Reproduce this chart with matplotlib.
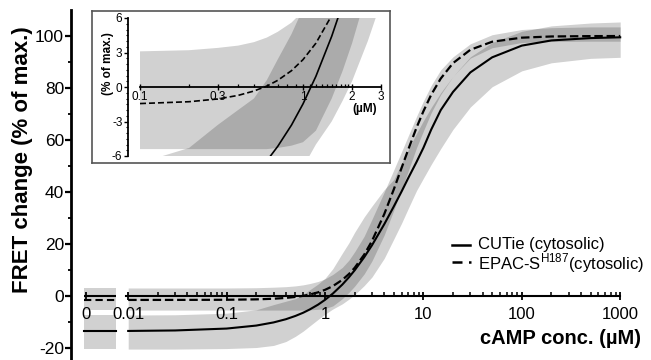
import numpy as np
import matplotlib
matplotlib.use("Agg")
import matplotlib.pyplot as plt
from matplotlib.lines import Line2D
from matplotlib.ticker import NullFormatter, FixedLocator

plt.rcParams['font.family'] = ['Liberation Sans', 'DejaVu Sans']
plt.rcParams['mathtext.fontset'] = 'custom'
plt.rcParams['mathtext.rm'] = 'Liberation Sans'

# ---------------- data ----------------
conc = [0.01, 0.03, 0.1, 0.2, 0.3, 0.4, 0.5, 0.6, 0.7, 0.85, 1, 1.2, 1.5, 1.75, 2,
        2.5, 3, 4, 5, 6, 7, 8.5, 10, 12, 15, 20, 30, 50, 100, 200, 500, 1000]

cutie = [-13.43, -13.24, -12.51, -11.36, -10.15, -8.92, -7.66, -6.42, -5.16, -3.31,
         -1.47, 0.93, 4.41, 7.21, 9.88, 14.91, 19.51, 27.61, 34.43, 40.19, 45.3,
         51.5, 57.0, 64.0, 71.5, 78.5, 86.0, 91.8, 96.3, 98.3, 99.2, 99.5]
cutie_hi = [-7.3, -7.2, -6.6, -5.3, -3.3, -2.0, -1.0, 0.6, 2.4, 4.6, 6.8, 10.5, 16.5,
            20.5, 24.5, 30.4, 34.6, 40.9, 44.8, 51.0, 56.2, 62.5, 67.4, 72.5, 78.2,
            84.5, 92.0, 97.5, 101.8, 103.9, 105.0, 105.4]
cutie_lo = [-20.4, -20.4, -20.2, -19.8, -19.0, -17.5, -15.5, -13.5, -11.5, -9.0,
            -7.0, -5.0, -3.0, -1.2, 0.5, 4.0, 7.3, 14.5, 21.9, 28.0, 33.6, 40.5,
            45.3, 50.6, 56.7, 64.1, 72.7, 80.5, 86.6, 89.7, 91.4, 91.8]

epac = [-1.50, -1.49, -1.44, -1.28, -1.04, -0.73, -0.35, 0.08, 0.58, 1.42, 2.38,
        3.81, 6.22, 8.46, 10.83, 15.9, 21.15, 31.5, 41.0, 49.25, 56.25, 64.7,
        71.06, 77.4, 83.64, 89.58, 94.7, 97.8, 99.36, 99.82, 99.96, 99.99]
epac_hi = [3.1, 3.1, 3.1, 3.2, 3.4, 3.6, 3.9, 4.3, 4.8, 5.6, 6.6, 8.3, 11.0, 13.8,
           17.0, 23.0, 29.5, 40.0, 48.5, 55.5, 61.5, 69.0, 75.0, 81.0, 87.0, 92.0,
           97.0, 100.5, 102.5, 103.2, 103.5, 103.5]
epac_lo = [-5.4, -5.4, -5.4, -5.4, -5.4, -5.4, -5.4, -5.4, -5.3, -5.1, -4.8, -3.8,
           -1.0, 1.4, 3.8, 8.5, 13.5, 23.5, 33.0, 41.0, 48.0, 57.0, 63.5, 70.5,
           77.5, 84.5, 91.5, 95.5, 97.5, 97.9, 98.0, 98.0]

# values at zero cAMP (left axis segment)
zero_cutie, zero_cutie_lo, zero_cutie_hi = -13.5, -20.4, -7.3
zero_epac, zero_epac_lo, zero_epac_hi = -1.5, -5.4, 3.1

xtick_vals = [0.01, 0.1, 1, 10, 100, 1000]
xtick_labels = ['0.01', '0.1', '1', '10', '100', '1000']
ytick_vals = [-20, 0, 20, 40, 60, 80, 100]
inset_xticks = [0.1, 0.3, 1, 2, 3]
inset_xlabels = ['0.1', '0.3', '1', '2', '3']
inset_yticks = [-6, -3, 0, 3, 6]
inset_ylabels = ['-6', '-3', '0', '3', '6']

# ---------------- figure ----------------
W, H = 651, 360
fig = plt.figure(figsize=(W / 100, H / 100), dpi=100)

def fx(p):
    return p / W

def fy(p):
    return 1 - p / H

PX0, PXDEC = 325.0, 98.4          # pixel of 1 uM, pixels per decade
ax = fig.add_axes([fx(71), 0, fx(651 - 71), 350 / H])
ax.set_xlim((71 - PX0) / PXDEC, (651 - PX0) / PXDEC)
ax.set_ylim(-24.6, 110)

u = np.log10(conc)
BAND = dict(color='k', alpha=0.18, lw=0)
ax.fill_between(u, cutie_lo, cutie_hi, **BAND, zorder=1)
ax.fill_between(u, epac_lo, epac_hi, **BAND, zorder=1)

# zero-concentration segment
U0 = (86 - PX0) / PXDEC
seg = [(84 - PX0) / PXDEC, (116 - PX0) / PXDEC]
ax.fill_between(seg, [zero_cutie_lo] * 2, [zero_cutie_hi] * 2, **BAND, zorder=1)
ax.fill_between(seg, [zero_epac_lo] * 2, [zero_epac_hi] * 2, **BAND, zorder=1)
ax.plot(seg, [0, 0], color='k', lw=1.5, zorder=3, solid_capstyle='butt')
ax.plot(seg, [zero_cutie] * 2, color='k', lw=1.5, zorder=4)
ax.plot(seg, [zero_epac] * 2, color='k', lw=1.5, dashes=(3.5, 2), zorder=4)

ax.plot(u, cutie, color='k', lw=1.5, zorder=4)
ax.plot(u, epac, color='k', lw=1.6, dashes=(3.8, 1.7), zorder=4)

for s in ['top', 'right']:
    ax.spines[s].set_visible(False)
ax.spines['left'].set_linewidth(2.0)
ax.spines['bottom'].set_position(('data', 0))
ax.spines['bottom'].set_bounds((126 - PX0) / PXDEC, 3.0)
ax.spines['bottom'].set_linewidth(1.5)
ax.spines['bottom'].set_zorder(3)

ax.set_xticks([U0] + list(np.log10(xtick_vals)))
ax.set_xticklabels(['0'] + xtick_labels, fontsize=12)
minor_u = [np.log10(k * 10.0 ** d) for d in range(-2, 3) for k in range(2, 10)]
ax.xaxis.set_minor_locator(FixedLocator(minor_u))
ax.tick_params(axis='x', which='major', direction='inout', length=6, width=1.3, pad=5)
ax.tick_params(axis='x', which='minor', direction='in', length=3, width=1.1)

ax.set_yticks(ytick_vals)
ax.set_yticklabels([str(v) for v in ytick_vals], fontsize=12.5)
ax.yaxis.set_minor_locator(FixedLocator([-10, 10, 30, 50, 70, 90]))
ax.tick_params(axis='y', which='major', direction='out', length=4, width=1.6, pad=1)
ax.tick_params(axis='y', which='minor', direction='out', length=2.5, width=1.3)

fig.text(fx(23), fy(160), 'FRET change (% of max.)', rotation=90, fontsize=16,
         fontweight='bold', ha='center', va='center')
fig.text(fx(641), fy(338), 'cAMP conc. (µM)', fontsize=14.5, fontweight='bold',
         ha='right', va='center')

# legend
fig.add_artist(Line2D([fx(452), fx(470)], [fy(245), fy(245)], color='k', lw=1.8,
                      transform=fig.transFigure))
fig.add_artist(Line2D([fx(452), fx(471)], [fy(262), fy(262)], color='k', lw=1.8,
                      dashes=(4, 2.6), transform=fig.transFigure))
fig.text(fx(478), fy(245), 'CUTie (cytosolic)', fontsize=12, va='center', ha='left')
fig.text(fx(478), fy(263), r'EPAC-S$^{\mathregular{H187}}$(cytosolic)', fontsize=12,
         va='center', ha='left')

# ---------------- inset ----------------
box = fig.add_axes([fx(92), fy(163), fx(390 - 92), (163 - 11) / H])
box.set_xticks([])
box.set_yticks([])
for s in box.spines.values():
    s.set_color('#555555')
    s.set_linewidth(1.2)
box.set_zorder(5)

IX0, IXDEC = 303.0, 163.0
iax = fig.add_axes([fx(128), fy(156), fx(388 - 128), 138 / H])
iax.set_zorder(6)
iax.patch.set_alpha(0)
iax.set_xscale('log')
iax.set_xlim(10 ** ((128 - IX0) / IXDEC), 10 ** ((388 - IX0) / IXDEC))
iax.set_ylim(-6, 6)

i0 = conc.index(0.1)
ic = conc[i0:]
iax.fill_between(ic, cutie_lo[i0:], cutie_hi[i0:], **BAND, zorder=1)
iax.fill_between(ic, epac_lo[i0:], epac_hi[i0:], **BAND, zorder=1)
iax.plot(ic, cutie[i0:], color='k', lw=1.2, zorder=4)
iax.plot(ic, epac[i0:], color='k', lw=1.2, dashes=(3.6, 1.8), zorder=4)

for s in ['top', 'right']:
    iax.spines[s].set_visible(False)
iax.spines['left'].set_linewidth(1.3)
iax.spines['bottom'].set_position(('data', 0))
iax.spines['bottom'].set_bounds(0.1, 3)
iax.spines['bottom'].set_linewidth(1.3)
iax.set_xticks(inset_xticks)
iax.set_xticklabels(inset_xlabels, fontsize=8.5)
iax.xaxis.set_minor_locator(FixedLocator([0.2, 0.4, 0.5, 0.6, 0.7, 0.8, 0.9,
                                          1.1, 1.2, 1.3, 1.4, 1.5, 1.6, 1.7, 1.8, 1.9]))
iax.xaxis.set_minor_formatter(NullFormatter())
iax.tick_params(axis='x', which='major', direction='inout', length=4, width=1.0, pad=1)
iax.tick_params(axis='x', which='minor', direction='in', length=2, width=0.9)
iax.set_yticks(inset_yticks)
iax.set_yticklabels(inset_ylabels, fontsize=8.5)
iax.yaxis.set_minor_locator(FixedLocator([v / 2 for v in range(-12, 13) if v % 6]))
iax.tick_params(axis='y', which='major', direction='out', length=3, width=1.0, pad=1)
iax.tick_params(axis='y', which='minor', direction='out', length=1.8, width=0.8)

fig.text(fx(108), fy(64), '(% of max.)', rotation=90, fontsize=8.5, fontweight='bold',
         ha='center', va='center', zorder=7)
fig.text(fx(365), fy(109), '(µM)', fontsize=8.5, fontweight='bold', ha='center',
         va='center', zorder=7)

fig.savefig('out.png', dpi=100)
